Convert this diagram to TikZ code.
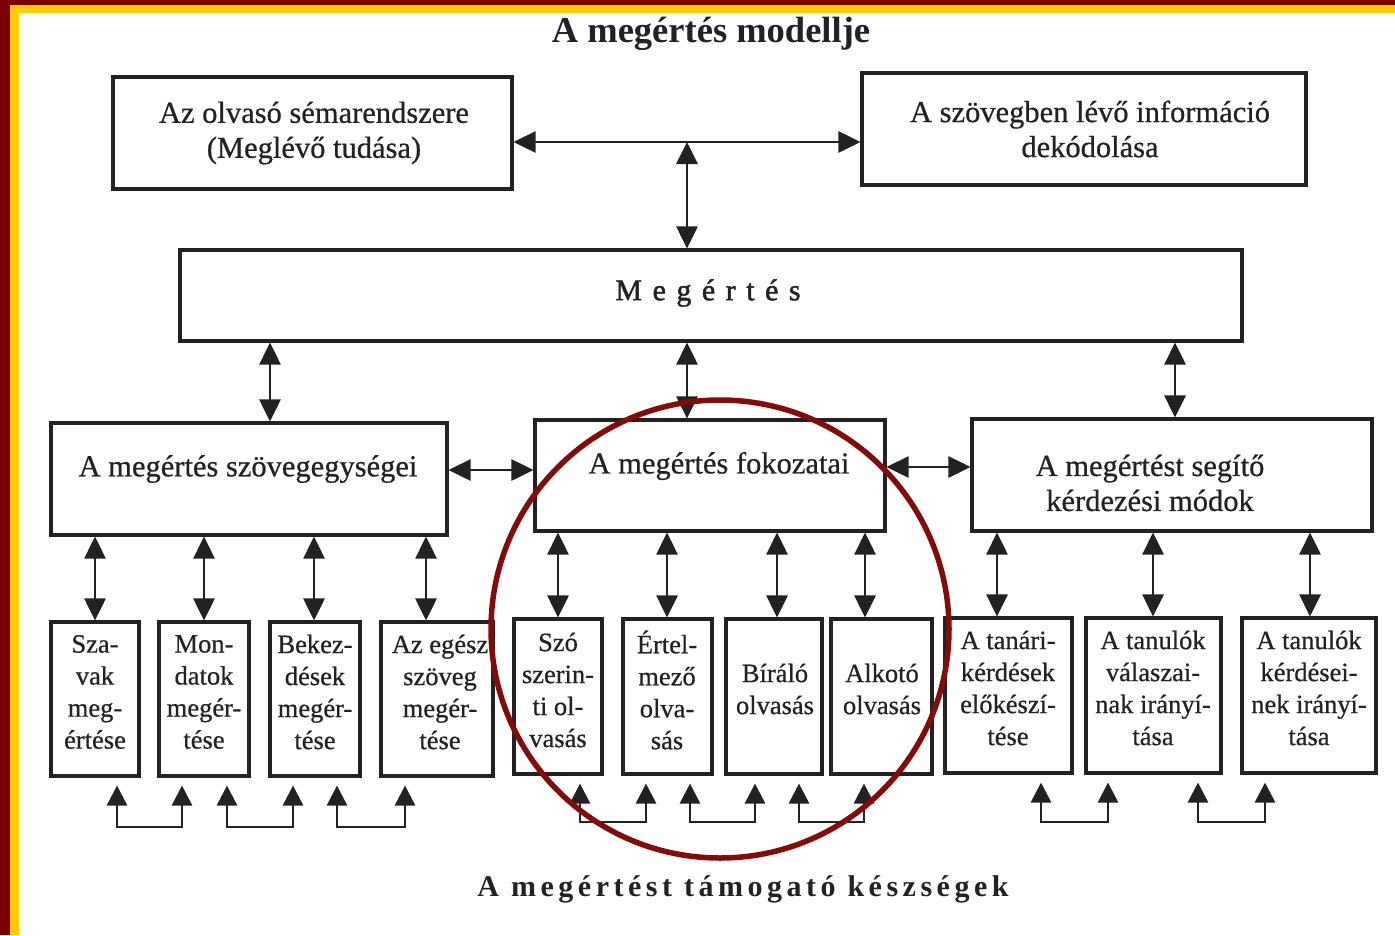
\documentclass[tikz,border=0pt]{standalone}
\usepackage{fontspec}
\setmainfont{Liberation Serif}
\newfontfamily\inkfont{Liberation Serif}[FakeBold=0.6]
\newfontfamily\megfont{Liberation Serif}[FakeBold=1.6,LetterSpace=35]
\usetikzlibrary{arrows.meta}
\definecolor{ink}{HTML}{222222}
\definecolor{bred}{HTML}{7D0000}
\definecolor{byel}{HTML}{FFCC00}
\definecolor{cred}{HTML}{850A0A}
\newcommand{\mkbox}[5]{\node[box, minimum width=#4pt-#2pt, minimum height=#5pt-#3pt] (#1) at ({(#2+#4)/2},{(#3+#5)/2}) {};}
\begin{document}
\begin{tikzpicture}[x=1pt,y=-1pt,
  box/.style={draw=ink, line width=3.1pt, inner sep=0pt},
  big/.style={font=\inkfont\fontsize{30.5}{35}\selectfont, text=ink, align=center, inner sep=0pt},
  small/.style={font=\inkfont\fontsize{26.5}{32}\selectfont, text=ink, align=center, inner sep=0pt},
  dbl/.style={draw=ink, line width=2.8pt, {Triangle[length=22pt,width=21pt]}-{Triangle[length=22pt,width=21pt]}},
  bdbl/.style={draw=ink, line width=2.8pt, {Triangle[length=20pt,width=20pt]}-{Triangle[length=20pt,width=20pt]}, shorten <=8pt, shorten >=8pt},
]
\useasboundingbox (0,0) rectangle (1395,935);
\fill[white] (0,0) rectangle (1395,935);
% frame
\fill[byel] (10,5) rectangle (1395,13);
\fill[byel] (10,5) rectangle (19,935);
\fill[bred] (0,0) rectangle (1395,5);
\fill[bred] (0,0) rectangle (10,935);

% title
\node[font=\bfseries\fontsize{36.5}{42}\selectfont, text=ink, inner sep=0pt] (title) at (711,34) {A megértés modellje};

% top boxes
\mkbox{olv}{113}{77}{512}{189}
\node[big] (olvt) at (314,133) {Az olvasó sémarendszere\\(Meglévő tudása)};
\mkbox{dek}{862}{73}{1306}{185}
\node[big] (dekt) at (1090,129) {A szövegben lévő információ\\dekódolása};

\mkbox{meg}{180}{250}{1242}{341}
\node[font=\megfont\fontsize{30}{34}\selectfont, text=ink, inner sep=0pt] (megt) at (708,293) {Megértés};

% middle boxes
\mkbox{egys}{51}{423}{447}{535}
\node[big] (egyst) at (248,469) {A megértés szövegegységei};
\mkbox{fok}{535}{420}{885}{531}
\node[big] (fokt) at (719,466) {A megértés fokozatai};
\mkbox{seg}{972}{419}{1372}{531}
\node[big] (segt) at (1150,483) {A megértést segítő\\kérdezési módok};

% bottom boxes
\mkbox{b1}{51}{622}{139}{776}
\mkbox{b2}{159}{622}{249}{776}
\mkbox{b3}{270}{622}{360}{776}
\mkbox{b4}{381}{622}{493}{776}
\mkbox{b5}{514}{619}{602}{774}
\mkbox{b6}{623}{619}{712}{774}
\mkbox{b7}{726}{619}{822}{774}
\mkbox{b8}{831}{619}{932}{774}
\mkbox{b9}{945}{618}{1072}{773}
\mkbox{b10}{1086}{618}{1221}{773}
\mkbox{b11}{1242}{618}{1376}{773}

\node[small] (b1t) at (95,692) {Sza-\\vak\\meg-\\értése};
\node[small] (b2t) at (204,692) {Mon-\\datok\\megér-\\tése};
\node[small] (b3t) at (315,692) {Bekez-\\dések\\megér-\\tése};
\node[small] (b4t) at (440,692) {Az egész\\szöveg\\megér-\\tése};
\node[small] (b5t) at (558,690) {Szó\\szerin-\\ti ol-\\vasás};
\node[small] (b6t) at (667,690) {Értel-\\mező\\olva-\\sás};
\node[small] (b7t) at (775,689) {Bíráló\\olvasás};
\node[small] (b8t) at (882,689) {Alkotó\\olvasás};
\node[small] (b9t) at (1008,688) {A tanári-\\kérdések\\előkészí-\\tése};
\node[small] (b10t) at (1153,688) {A tanulók\\válaszai-\\nak irányí-\\tása};
\node[small] (b11t) at (1309,688) {A tanulók\\kérdései-\\nek irányí-\\tása};

% top connectors
\coordinate (hmid) at (687,142);
\draw[dbl] (olv.east |- hmid) -- (dek.west |- hmid);
\draw[dbl] (hmid) -- (meg.north -| hmid);

% Megértés to middle row
\draw[dbl] (meg.south -| 270,0) -- (egys.north -| 270,0);
\draw[dbl] (meg.south -| 687,0) -- (fok.north -| 687,0);
\draw[dbl] (meg.south -| 1175,0) -- (seg.north -| 1175,0);

% middle row horizontal
\draw[dbl] (egys.east |- 0,470) -- (fok.west |- 0,470);
\draw[dbl] (fok.east |- 0,467) -- (seg.west |- 0,467);

% middle row to bottom row
\draw[dbl] (egys.south -| 95,0) -- (b1.north -| 95,0);
\draw[dbl] (egys.south -| 204,0) -- (b2.north -| 204,0);
\draw[dbl] (egys.south -| 314,0) -- (b3.north -| 314,0);
\draw[dbl] (egys.south -| 426,0) -- (b4.north -| 426,0);
\draw[dbl] (fok.south -| 558,0) -- (b5.north -| 558,0);
\draw[dbl] (fok.south -| 667,0) -- (b6.north -| 667,0);
\draw[dbl] (fok.south -| 777,0) -- (b7.north -| 777,0);
\draw[dbl] (fok.south -| 865,0) -- (b8.north -| 865,0);
\draw[dbl] (seg.south -| 997,0) -- (b9.north -| 997,0);
\draw[dbl] (seg.south -| 1153,0) -- (b10.north -| 1153,0);
\draw[dbl] (seg.south -| 1310,0) -- (b11.north -| 1310,0);

% bottom U connectors
\draw[bdbl] (b1.south -| 117,0) -- (117,827) -- (182,827) -- (b2.south -| 182,0);
\draw[bdbl] (b2.south -| 227,0) -- (227,827) -- (293,827) -- (b3.south -| 293,0);
\draw[bdbl] (b3.south -| 337,0) -- (337,827) -- (405,827) -- (b4.south -| 405,0);
\draw[bdbl] (b5.south -| 580,0) -- (580,822) -- (646,822) -- (b6.south -| 646,0);
\draw[bdbl] (b6.south -| 690,0) -- (690,822) -- (755,822) -- (b7.south -| 755,0);
\draw[bdbl] (b7.south -| 799,0) -- (799,822) -- (864,822) -- (b8.south -| 864,0);
\draw[bdbl] (b9.south -| 1041,0) -- (1041,822) -- (1108,822) -- (b10.south -| 1108,0);
\draw[bdbl] (b10.south -| 1198,0) -- (1198,822) -- (1265,822) -- (b11.south -| 1265,0);

% caption
\node[font=\bfseries\fontsize{30}{34}\selectfont\addfontfeature{LetterSpace=15}, text=ink, inner sep=0pt] (cap) at (743,889) {A megértést támogató készségek};

% red circle
\node[draw=cred, line width=5.5pt, circle, minimum size=458pt, inner sep=0pt] (ring) at (720,629) {};
\end{tikzpicture}
\end{document}
